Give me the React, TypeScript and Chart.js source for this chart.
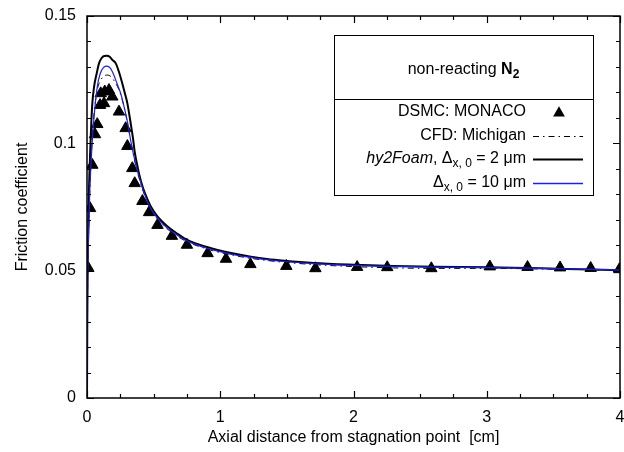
import React, { useEffect, useRef } from "react";
import { Chart, registerables } from "chart.js";

Chart.register(...registerables);

// ---------- data ----------
const dsmcX = [0.01, 0.023, 0.04, 0.06, 0.077, 0.098, 0.103, 0.128, 0.133, 0.165, 0.19, 0.24, 0.29, 0.303, 0.34, 0.358, 0.416, 0.466, 0.529, 0.637, 0.75, 0.905, 1.043, 1.226, 1.496, 1.714, 2.027, 2.253, 2.584, 3.023, 3.306, 3.55, 3.78, 3.995];
const dsmcY = [0.051, 0.0745, 0.0915, 0.1035, 0.1075, 0.115, 0.1196, 0.1157, 0.1203, 0.1209, 0.1183, 0.1124, 0.1059, 0.0989, 0.0902, 0.0843, 0.0773, 0.0729, 0.0679, 0.0636, 0.0601, 0.0568, 0.0546, 0.0525, 0.0518, 0.0509, 0.0514, 0.0513, 0.0509, 0.0516, 0.0514, 0.0512, 0.051, 0.0505];

const cfdX = [0, 0.005, 0.012, 0.022, 0.035, 0.05, 0.075, 0.103, 0.13, 0.153, 0.18, 0.21, 0.24, 0.27, 0.3, 0.33, 0.36, 0.39, 0.45, 0.53, 0.6, 0.73, 0.9, 1.1, 1.35, 1.7, 2.0, 2.3, 2.6, 3.0, 3.5, 4.0];
const cfdY = [0, 0.045, 0.065, 0.082, 0.098, 0.11, 0.1205, 0.1248, 0.1265, 0.1268, 0.1262, 0.124, 0.121, 0.116, 0.109, 0.1005, 0.0925, 0.0865, 0.0772, 0.0702, 0.0665, 0.0619, 0.0585, 0.056, 0.054, 0.0524, 0.0516, 0.0511, 0.0509, 0.0509, 0.0506, 0.0502];

const fine2X = [0, 0.003, 0.008, 0.015, 0.025, 0.032, 0.04, 0.053, 0.073, 0.09, 0.11, 0.13, 0.15, 0.17, 0.19, 0.216, 0.24, 0.265, 0.285, 0.303, 0.328, 0.345, 0.36, 0.375, 0.39, 0.42, 0.45, 0.48, 0.53, 0.6, 0.67, 0.73, 0.8, 0.9, 0.98, 1.1, 1.23, 1.35, 1.48, 1.7, 2.0, 2.3, 2.6, 3.0, 3.3, 3.6, 4.0];
const fine2Y = [0, 0.04, 0.062, 0.082, 0.098, 0.1078, 0.1157, 0.1222, 0.1275, 0.1314, 0.1335, 0.1343, 0.1344, 0.134, 0.1328, 0.1314, 0.128, 0.1235, 0.1195, 0.1157, 0.1078, 0.102, 0.096, 0.092, 0.0882, 0.0825, 0.0785, 0.0751, 0.0712, 0.0675, 0.0648, 0.0627, 0.061, 0.0593, 0.0581, 0.0567, 0.0555, 0.0546, 0.0539, 0.053, 0.0523, 0.0518, 0.0515, 0.0513, 0.051, 0.0507, 0.0502];

const coarse10X = [0, 0.004, 0.01, 0.02, 0.03, 0.04, 0.053, 0.077, 0.1, 0.125, 0.148, 0.175, 0.2, 0.225, 0.253, 0.28, 0.303, 0.33, 0.353, 0.39, 0.45, 0.48, 0.53, 0.6, 0.67, 0.73, 0.8, 0.9, 0.98, 1.1, 1.23, 1.35, 1.48, 1.7, 2.0, 2.3, 2.6, 3.0, 3.3, 3.6, 4.0];
const coarse10Y = [0, 0.04, 0.06, 0.08, 0.092, 0.1013, 0.1104, 0.1222, 0.1275, 0.1298, 0.1303, 0.1295, 0.127, 0.1235, 0.1196, 0.114, 0.1085, 0.1005, 0.0947, 0.087, 0.0775, 0.0743, 0.0705, 0.0668, 0.0642, 0.0622, 0.0605, 0.0588, 0.0577, 0.0563, 0.0552, 0.0543, 0.0536, 0.0528, 0.0521, 0.0517, 0.0514, 0.0512, 0.051, 0.0507, 0.0502];

const xTicks = [0, 1, 2, 3, 4];
const xMinorTicks = [0, 0.25, 0.5, 0.75, 1, 1.25, 1.5, 1.75, 2, 2.25, 2.5, 2.75, 3, 3.25, 3.5, 3.75, 4];
const yTicks = [0, 0.05, 0.1, 0.15];
const yTickLabels = ["0", "0.05", "0.1", "0.15"];
const yMinorTicks = [0, 0.01, 0.02, 0.03, 0.04, 0.05, 0.06, 0.07, 0.08, 0.09, 0.1, 0.11, 0.12, 0.13, 0.14, 0.15];

const seriesLabels = ["DSMC: MONACO", "CFD: Michigan", "hy2Foam, Δx, 0 = 2 μm", "Δx, 0 = 10 μm"];
const legendTitle = "non-reacting N2";
const xTitle = "Axial distance from stagnation point  [cm]";
const yTitle = "Friction coefficient";

const FONT = "'Liberation Sans', Arial, Helvetica, sans-serif";
const FS = 16;
const BLUE = "#1f1fe6";

const pts = (xs: number[], ys: number[]) => xs.map((x, i) => ({ x, y: ys[i] }));

type Seg = { t: string; style?: string; sub?: boolean };

function segFont(s: Seg) {
  const size = s.sub ? 12 : FS;
  const st = s.style === "italic" ? "italic " : s.style === "bold" ? "bold " : "";
  return `${st}${size}px ${FONT}`;
}
function segWidth(ctx: CanvasRenderingContext2D, segs: Seg[]) {
  let w = 0;
  for (const s of segs) {
    ctx.font = segFont(s);
    w += ctx.measureText(s.t).width;
  }
  return w;
}
function drawSegs(ctx: CanvasRenderingContext2D, segs: Seg[], x0: number, y: number) {
  let x = x0;
  ctx.textAlign = "left";
  ctx.textBaseline = "middle";
  for (const s of segs) {
    ctx.font = segFont(s);
    ctx.fillText(s.t, x, s.sub ? y + 4.5 : y);
    x += ctx.measureText(s.t).width;
  }
}

const framePlugin = {
  id: "frameAndLegend",
  afterDraw(chart: any) {
    const { ctx, chartArea: a, scales } = chart;
    const xs = scales.x;
    const ys = scales.y;
    ctx.save();
    ctx.strokeStyle = "#000";
    ctx.lineWidth = 1.2;
    ctx.beginPath();
    for (const v of xMinorTicks) {
      const px = Math.round(xs.getPixelForValue(v)) + 0.5;
      const len = xTicks.includes(v) ? 7 : 4;
      ctx.moveTo(px, a.bottom);
      ctx.lineTo(px, a.bottom - len);
      ctx.moveTo(px, a.top);
      ctx.lineTo(px, a.top + len);
    }
    for (const v of yMinorTicks) {
      const py = Math.round(ys.getPixelForValue(v)) + 0.5;
      const len = yTicks.some((t) => Math.abs(t - v) < 1e-9) ? 7 : 4;
      ctx.moveTo(a.left, py);
      ctx.lineTo(a.left + len, py);
      ctx.moveTo(a.right, py);
      ctx.lineTo(a.right - len, py);
    }
    ctx.stroke();
    ctx.lineWidth = 1.5;
    ctx.strokeRect(a.left, a.top, a.right - a.left, a.bottom - a.top);

    // legend box
    const L = a.right - 286;
    const R = a.right - 27;
    const T = a.top + 19;
    const B = a.top + 179;
    const D = a.top + 83;
    ctx.fillStyle = "#fff";
    ctx.fillRect(L, T, R - L, B - T);
    ctx.lineWidth = 1;
    ctx.strokeStyle = "#000";
    ctx.strokeRect(L + 0.5, T + 0.5, R - L, B - T);
    ctx.beginPath();
    ctx.moveTo(L, D + 0.5);
    ctx.lineTo(R, D + 0.5);
    ctx.stroke();

    ctx.fillStyle = "#000";
    const titleSegs: Seg[] = [
      { t: legendTitle.slice(0, -2) },
      { t: "N", style: "bold" },
      { t: "2", style: "bold", sub: true },
    ];
    const tw = segWidth(ctx, titleSegs);
    drawSegs(ctx, titleSegs, (L + R) / 2 - tw / 2, T + 35);

    const textRight = L + 192;
    const sx0 = L + 199;
    const sx1 = L + 249;
    const rows: { segs: Seg[]; y: number; kind: string }[] = [
      { segs: [{ t: seriesLabels[0] }], y: T + 77, kind: "tri" },
      { segs: [{ t: seriesLabels[1] }], y: T + 101, kind: "dash" },
      {
        segs: [
          { t: "hy2Foam", style: "italic" },
          { t: ", Δ" },
          { t: "x, 0", sub: true },
          { t: " = 2 μm" },
        ],
        y: T + 124,
        kind: "black",
      },
      {
        segs: [{ t: "Δ" }, { t: "x, 0", sub: true }, { t: " = 10 μm" }],
        y: T + 148,
        kind: "blue",
      },
    ];
    for (const r of rows) {
      const w = segWidth(ctx, r.segs);
      ctx.fillStyle = "#000";
      drawSegs(ctx, r.segs, textRight - w, r.y);
      if (r.kind === "tri") {
        const cx = (sx0 + sx1) / 2 + 1;
        const rad = 6.8;
        ctx.beginPath();
        for (let k = 0; k < 3; k++) {
          const ang = (k * 2 * Math.PI) / 3;
          const px = cx + Math.sin(ang) * rad;
          const py = r.y - Math.cos(ang) * rad + 1;
          if (k === 0) ctx.moveTo(px, py);
          else ctx.lineTo(px, py);
        }
        ctx.closePath();
        ctx.fill();
      } else {
        ctx.beginPath();
        ctx.moveTo(sx0, r.y + 0.5);
        ctx.lineTo(sx1, r.y + 0.5);
        if (r.kind === "dash") {
          ctx.setLineDash([6, 4, 1.5, 4]);
          ctx.lineWidth = 1;
          ctx.strokeStyle = "#000";
        } else if (r.kind === "black") {
          ctx.setLineDash([]);
          ctx.lineWidth = 2;
          ctx.strokeStyle = "#000";
        } else {
          ctx.setLineDash([]);
          ctx.lineWidth = 1.4;
          ctx.strokeStyle = BLUE;
        }
        ctx.stroke();
        ctx.setLineDash([]);
      }
    }
    ctx.restore();
  },
};

export default function App() {
  const ref = useRef<HTMLCanvasElement | null>(null);
  useEffect(() => {
    if (!ref.current) return;
    const chart = new Chart(ref.current, {
      type: "scatter",
      data: {
        datasets: [
          {
            label: seriesLabels[0],
            data: pts(dsmcX, dsmcY),
            pointStyle: "triangle",
            pointRadius: 6.6,
            backgroundColor: "#000",
            borderColor: "#000",
            borderWidth: 1,
            showLine: false,
            order: 4,
          },
          {
            label: seriesLabels[1],
            data: pts(cfdX, cfdY),
            showLine: true,
            pointRadius: 0,
            borderColor: "#000",
            borderWidth: 1,
            borderDash: [6, 4, 1.5, 4],
            cubicInterpolationMode: "monotone",
            order: 3,
          },
          {
            label: seriesLabels[2],
            data: pts(fine2X, fine2Y),
            showLine: true,
            pointRadius: 0,
            borderColor: "#000",
            borderWidth: 2,
            cubicInterpolationMode: "monotone",
            order: 2,
          },
          {
            label: seriesLabels[3],
            data: pts(coarse10X, coarse10Y),
            showLine: true,
            pointRadius: 0,
            borderColor: BLUE,
            borderWidth: 1.2,
            cubicInterpolationMode: "monotone",
            order: 1,
          },
        ],
      },
      options: {
        animation: false,
        responsive: false,
        maintainAspectRatio: false,
        layout: { autoPadding: false, padding: { top: 16, right: 4, left: 0, bottom: 0 } },
        plugins: { legend: { display: false }, tooltip: { enabled: false } },
        events: [],
        scales: {
          x: {
            type: "linear",
            min: 0,
            max: 4,
            afterBuildTicks: (s: any) => {
              s.ticks = xTicks.map((v) => ({ value: v }));
            },
            afterFit: (s: any) => {
              s.height = 54;
              s.paddingLeft = 0;
              s.paddingRight = 0;
            },
            ticks: {
              padding: 10,
              color: "#000",
              font: { family: FONT, size: FS },
              callback: (v: any) => String(v),
              maxRotation: 0,
              autoSkip: false,
            },
            grid: { display: false, drawTicks: false },
            border: { display: false },
            title: {
              display: true,
              text: xTitle,
              color: "#000",
              font: { family: FONT, size: FS },
              padding: { top: 0, bottom: 5 },
            },
          },
          y: {
            type: "linear",
            min: 0,
            max: 0.15,
            afterBuildTicks: (s: any) => {
              s.ticks = yTicks.map((v) => ({ value: v }));
            },
            afterFit: (s: any) => {
              s.width = 87;
              s.paddingTop = 0;
              s.paddingBottom = 0;
            },
            ticks: {
              padding: 11,
              color: "#000",
              font: { family: FONT, size: FS },
              callback: (v: any) => {
                const i = yTicks.findIndex((t) => Math.abs(t - v) < 1e-9);
                return i >= 0 ? yTickLabels[i] : "";
              },
              autoSkip: false,
            },
            grid: { display: false, drawTicks: false },
            border: { display: false },
            title: {
              display: true,
              text: yTitle,
              color: "#000",
              font: { family: FONT, size: FS },
              padding: { top: 12.5, bottom: 0 },
            },
          },
        },
      },
      plugins: [framePlugin],
    } as any);
    return () => chart.destroy();
  }, []);
  return (
    <div style={{ position: "absolute", left: 0, top: 0, width: 624, height: 452, background: "#fff" }}>
      <canvas ref={ref} width={624} height={452} />
    </div>
  );
}
